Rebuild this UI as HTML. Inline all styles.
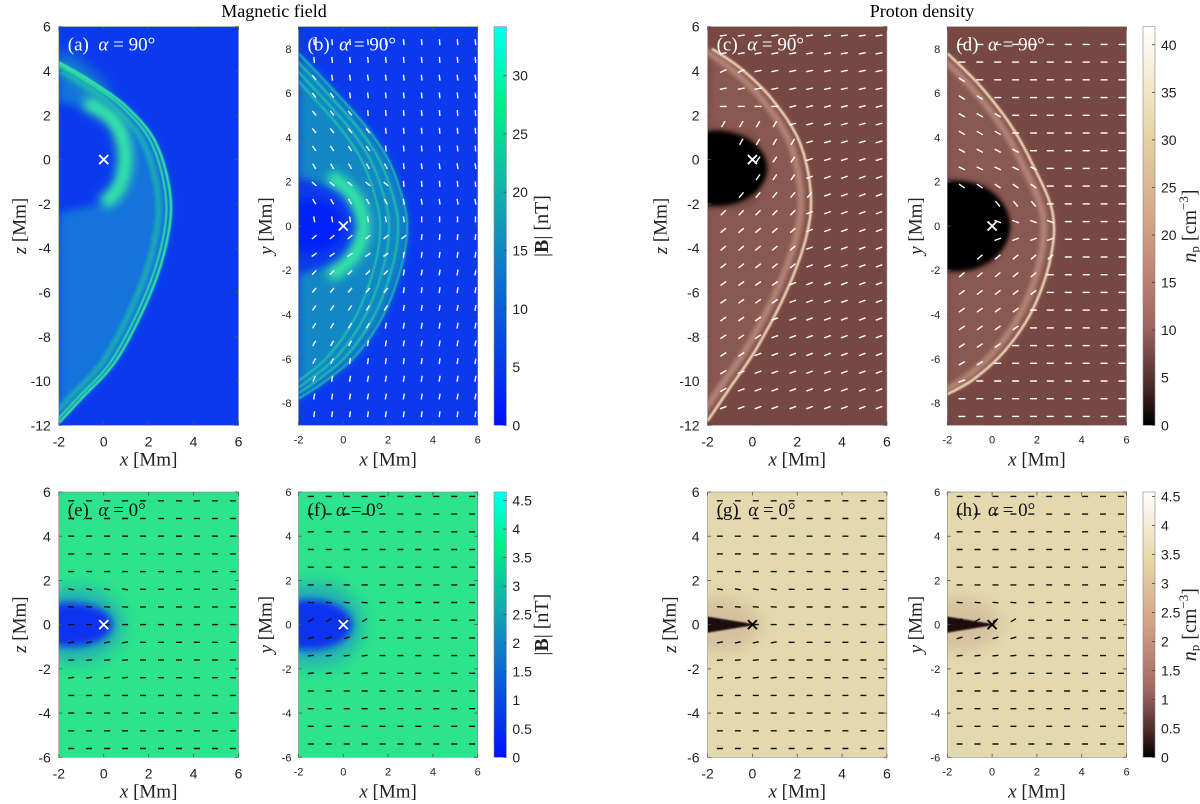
<!DOCTYPE html>
<html><head><meta charset="utf-8">
<style>
html,body{margin:0;padding:0;background:#fff;}
svg{display:block;}
.tk{font-family:"Liberation Sans",sans-serif;fill:#222;}
.sf{font-family:"Liberation Serif",serif;}
</style></head>
<body>
<svg id="fig" width="1200" height="804" viewBox="0 0 1200 804" xmlns="http://www.w3.org/2000/svg">
<defs>
<filter id="b1" x="-50%" y="-50%" width="200%" height="200%"><feGaussianBlur stdDeviation="0.8"/></filter>
<filter id="b2" x="-50%" y="-50%" width="200%" height="200%"><feGaussianBlur stdDeviation="2"/></filter>
<filter id="b4" x="-50%" y="-50%" width="200%" height="200%"><feGaussianBlur stdDeviation="4"/></filter>
<filter id="b5" x="-50%" y="-50%" width="200%" height="200%"><feGaussianBlur stdDeviation="5"/></filter>
<filter id="b8" x="-50%" y="-50%" width="200%" height="200%"><feGaussianBlur stdDeviation="8"/></filter>
<linearGradient id="cbB" x1="0" y1="1" x2="0" y2="0">
<stop offset="0" stop-color="#0010ff"/><stop offset="0.3" stop-color="#0a60d8"/><stop offset="0.55" stop-color="#10a8b0"/><stop offset="0.8" stop-color="#00f088"/><stop offset="1" stop-color="#00fff0"/></linearGradient>
<linearGradient id="cbN" x1="0" y1="1" x2="0" y2="0">
<stop offset="0" stop-color="#000000"/><stop offset="0.1" stop-color="#4a2a28"/><stop offset="0.25" stop-color="#a06662"/><stop offset="0.5" stop-color="#d2a284"/><stop offset="0.75" stop-color="#e8d8a8"/><stop offset="1" stop-color="#ffffff"/></linearGradient>
</defs>
<text class="sf" x="274" y="17" font-size="18" text-anchor="middle">Magnetic field</text>
<text class="sf" x="922" y="17" font-size="18" text-anchor="middle">Proton density</text>
</svg>
<script>
// ---------- data ----------
const xTicks=[-2,0,2,4,6];
const yTicksA=[-12,-10,-8,-6,-4,-2,0,2,4,6];
const yTicksB=[-8,-6,-4,-2,0,2,4,6,8];
const yTicksE=[-6,-4,-2,0,2,4,6];
const cbTicksB=[0,5,10,15,20,25,30];
const cbTicksN=[0,5,10,15,20,25,30,35,40];
const cbTicksLow=[0,0.5,1,1.5,2,2.5,3,3.5,4,4.5];
// shock fronts (x,y data)
const shockA=[[-2,4.4],[-0.5,3.5],[1,2.4],[2.3,0.8],[2.95,-1.5],[2.85,-3.5],[2.1,-6],[0.6,-9],[-1,-10.8],[-2,-11.9]];
const shockB=[[-2,7.8],[-0.5,6.2],[1,4.5],[2,3],[2.6,1.4],[2.85,0],[2.6,-1.8],[1.8,-4],[0.6,-5.8],[-0.8,-7],[-2,-7.8]];
const shockC=[[-1.8,5],[-0.5,4.1],[0.9,2.7],[2.1,0.8],[2.6,-1.5],[2.4,-3.5],[1.5,-6],[0.2,-8.5],[-1,-10.3],[-2,-11.8]];
const shockD=[[-2,7.8],[-0.6,6.4],[0.8,4.6],[1.8,2.8],[2.7,0.6],[2.6,-1.5],[1.8,-3.8],[0.6,-5.6],[-0.8,-6.9],[-2,-7.6]];
// quiver grids
const colsB=[-1.3,-0.5,0.3,1.1,1.9,2.7,3.5,4.3,5.1,5.9];
const rowsB=[8.3,7.5,6.7,5.9,5.1,4.3,3.5,2.7,1.9,1.1,0.3,-0.5,-1.3,-2.1,-2.9,-3.7,-4.5,-5.3,-6.1,-6.9,-7.7,-8.5];
const upAngB=[95,95,98,96,95,95,95,98,95,100,90,85,82,80,82,80,80,80,82,80,80,82];
const shAngB=[125,125,128,128,130,128,125,120,140,120,100,40,35,45,50,55,58,60,62,65,70,75];
const colsC=[-1.3,-0.5,0.25,1.0,1.8,2.55,3.35,4.1,4.9,5.65];
const rowsC=[5.6,4.8,4.0,3.2,2.4,1.6,0.8,0,-0.8,-1.6,-2.4,-3.2,-4.0,-4.8,-5.6,-6.4,-7.2,-8.0,-8.8,-9.6,-10.4,-11.2];
const upAngC=[8,10,12,12,14,15,16,18,20,20,20,20,20,20,20,20,20,20,20,20,20,20];
const shAngC=[15,18,25,10,0,60,60,55,55,50,45,40,40,38,36,35,35,34,33,32,30,30];
const colsD=[-1.35,-0.55,0.25,1.05,1.85,2.6,3.4,4.2,5.0,5.8];
const rowsD=[8.2,7.4,6.6,5.8,5.0,4.2,3.4,2.6,1.8,1.0,0.2,-0.6,-1.4,-2.2,-3.0,-3.8,-4.6,-5.4,-6.2,-7.0,-7.8,-8.6];
const upAngD=[0,0,0,0,0,0,0,0,0,0,0,0,0,0,0,0,0,0,0,0,0,0];
const shAngD=[-30,-30,-32,-32,-30,-30,-28,-25,-35,-50,-20,20,40,40,38,36,35,34,30,20,0,0];
const colsE=[-1.45,-0.65,0.15,0.95,1.75,2.55,3.35,4.15,4.95,5.75];
const rowsE=[5.6,4.8,4.0,3.2,2.4,1.6,0.8,0,-0.8,-1.6,-2.4,-3.2,-4.0,-4.8,-5.6];
const angE=[0,0,0,0,0,-10,-5,0,10,5,8,0,0,0,0];
const rowsF=[5.8,5.0,4.2,3.4,2.6,1.8,1.0,0.2,-0.6,-1.4,-2.2,-3.0,-3.8,-4.6,-5.4];
const angF=[0,0,0,0,0,0,-5,30,15,5,5,0,0,0,0];

// ---------- helpers ----------
const NS='http://www.w3.org/2000/svg';
const svg=document.getElementById('fig');
function mk(tag,attrs,parent){const e=document.createElementNS(NS,tag);for(const k in attrs)e.setAttribute(k,attrs[k]);(parent||svg).appendChild(e);return e;}
function smooth(pts){let d='M'+pts[0][0].toFixed(1)+','+pts[0][1].toFixed(1);
 for(let i=0;i<pts.length-1;i++){const p0=pts[i-1]||pts[i],p1=pts[i],p2=pts[i+1],p3=pts[i+2]||p2;
  d+='C'+(p1[0]+(p2[0]-p0[0])/6).toFixed(1)+','+(p1[1]+(p2[1]-p0[1])/6).toFixed(1)+' '+(p2[0]-(p3[0]-p1[0])/6).toFixed(1)+','+(p2[1]-(p3[1]-p1[1])/6).toFixed(1)+' '+p2[0].toFixed(1)+','+p2[1].toFixed(1);}
 return d;}
function shockXAt(sh,y){for(let i=0;i<sh.length-1;i++){const a=sh[i],b=sh[i+1];if((y<=a[1]&&y>=b[1])){const t=(a[1]-y)/(a[1]-b[1]);return a[0]+t*(b[0]-a[0]);}}return -99;}

const panels=[
 {id:'a',L:58.8,R:238.5,T:26.7,B:425.3,y0:-12,y1:6,yt:yTicksA,fs:14,yl:'z',ylx:20,lab:'(a)',ang:'90',col:'#fff'},
 {id:'b',L:298.5,R:477.7,T:26.7,B:425.3,y0:-9,y1:9,yt:yTicksB,fs:11,yl:'y',ylx:266,lab:'(b)',ang:'90',col:'#fff'},
 {id:'c',L:707.6,R:886.9,T:26.7,B:425.3,y0:-12,y1:6,yt:yTicksA,fs:14,yl:'z',ylx:661,lab:'(c)',ang:'90',col:'#fff'},
 {id:'d',L:947.3,R:1126.5,T:26.7,B:425.3,y0:-9,y1:9,yt:yTicksB,fs:11,yl:'y',ylx:916,lab:'(d)',ang:'90',col:'#fff'},
 {id:'e',L:58.8,R:238.5,T:492,B:757.3,y0:-6,y1:6,yt:yTicksE,fs:14,yl:'z',ylx:20,lab:'(e)',ang:'0',col:'#111'},
 {id:'f',L:298.5,R:477.7,T:492,B:757.3,y0:-6,y1:6,yt:yTicksE,fs:11,yl:'y',ylx:266,lab:'(f)',ang:'0',col:'#111'},
 {id:'g',L:707.6,R:886.9,T:492,B:757.3,y0:-6,y1:6,yt:yTicksE,fs:14,yl:'z',ylx:670,lab:'(g)',ang:'0',col:'#111'},
 {id:'h',L:947.3,R:1126.5,T:492,B:757.3,y0:-6,y1:6,yt:yTicksE,fs:11,yl:'y',ylx:916,lab:'(h)',ang:'0',col:'#111'}
];

function quiver(g,P,sx,sy,cols,rows,angFn,len,color,skip){
 rows.forEach((yv,ri)=>{cols.forEach((xv)=>{
  if(skip&&skip(xv,yv))return;
  const a=angFn(xv,yv,ri)*Math.PI/180;const cx=sx(xv),cy=sy(yv);
  const dx=Math.cos(a)*len/2,dy=-Math.sin(a)*len/2;
  const l=mk('line',{x1:(cx-dx).toFixed(1),y1:(cy-dy).toFixed(1),x2:(cx+dx).toFixed(1),y2:(cy+dy).toFixed(1),stroke:color,'stroke-width':1.4},g);
  
  
 });});
}
function pts(arr,sx,sy,dx){return arr.map(p=>[sx(p[0]+(dx||0)),sy(p[1])]);}

panels.forEach(P=>{
 const sx=x=>P.L+(x+2)/8*(P.R-P.L);
 const sy=v=>P.B-(v-P.y0)/(P.y1-P.y0)*(P.B-P.T);
 const cp=mk('clipPath',{id:'clip'+P.id},svg.querySelector('defs'));
 mk('rect',{x:P.L,y:P.T,width:P.R-P.L,height:P.B-P.T},cp);
 const g=mk('g',{'clip-path':'url(#clip'+P.id+')'});
 
 
 const bgc={a:'#0b3aee',b:'#0b3aee',c:'#774843',d:'#774843',e:'#2ce48c',f:'#2ce48c',g:'#e4d9ae',h:'#e4d9ae'}[P.id];
 const bg=mk('rect',{x:P.L,y:P.T,width:P.R-P.L,height:P.B-P.T,fill:bgc},g);
 
 
 if(P.id==='a'){
  const sh=pts(shockA,sx,sy);
  const inner=[[-2,2.6],[0,2.1],[0.85,0.6],[0.7,-1],[-0.2,-2],[-2,-2.4]].map(p=>[sx(p[0]),sy(p[1])]).reverse();
  mk('path',{d:smooth(sh)+'L'+inner.map(p=>p.join(',')).join('L')+'Z',fill:'#1a9ad0',opacity:0.6,filter:'url(#b4)'},g);
  mk('path',{d:smooth(pts([[-2,4.6],[-1,3.8],[0,2.8]],sx,sy)),stroke:'#20b8b0','stroke-width':16,fill:'none',opacity:0.7,filter:'url(#b8)'},g);
  mk('path',{d:smooth(pts([[-0.8,2.6],[0.5,1.7],[0.95,0.2],[0.7,-1.2],[0,-2]],sx,sy)),stroke:'#38f0a0','stroke-width':14,fill:'none',filter:'url(#b5)'},g);
  mk('path',{d:smooth(pts(shockA,sx,sy,-0.55)),stroke:'#20d0a0','stroke-width':5,fill:'none',opacity:0.7,filter:'url(#b2)'},g);
  mk('path',{d:smooth(pts(shockA,sx,sy,-0.2)),stroke:'#30e898','stroke-width':2,fill:'none',filter:'url(#b1)'},g);
  mk('path',{d:smooth(sh),stroke:'#34f09a','stroke-width':2.4,fill:'none',filter:'url(#b1)'},g);
 }
 if(P.id==='b'){
  const sh=pts(shockB,sx,sy);
  const inner=[[-2,2.2],[0,1.6],[0.85,0],[0,-1.6],[-2,-2.2]].map(p=>[sx(p[0]),sy(p[1])]).reverse();
  mk('path',{d:smooth(sh)+'L'+inner.map(p=>p.join(',')).join('L')+'Z',fill:'#14a8b4',opacity:0.7,filter:'url(#b4)'},g);
  mk('path',{d:smooth(pts([[-0.6,2.3],[0.5,1.3],[0.9,0],[0.5,-1.3],[-0.6,-2.3]],sx,sy)),stroke:'#38f0a0','stroke-width':13,fill:'none',filter:'url(#b5)'},g);
  [-1.2,-0.8,-0.4,0].forEach(o=>{mk('path',{d:smooth(pts(shockB,sx,sy,o)),stroke:'#28dca0','stroke-width':2,fill:'none',opacity:0.7,filter:'url(#b1)'},g);});
  mk('ellipse',{cx:sx(-1.5),cy:sy(0),rx:(sx(1)-sx(0))*1.5,ry:(sy(0)-sy(1))*1.2,fill:'#0520f8',filter:'url(#b4)'},g);
 }
 if(P.id==='c'||P.id==='d'){
  const S=P.id==='c'?shockC:shockD;
  const sh=pts(S,sx,sy);
  const inner=(P.id==='c'?[[-2,1.5],[0,1.2],[0.8,-0.4],[0,-2.1],[-2,-2.3]]:[[-2,2.2],[0,1.8],[0.9,0],[0,-1.8],[-2,-2.2]]).map(p=>[sx(p[0]),sy(p[1])]).reverse();
  mk('path',{d:smooth(sh)+'L'+inner.map(p=>p.join(',')).join('L')+'Z',fill:'#94625a',opacity:0.65,filter:'url(#b4)'},g);
  mk('path',{d:smooth(pts(S,sx,sy,-0.45)),stroke:'#c89888','stroke-width':6,fill:'none',opacity:0.75,filter:'url(#b2)'},g);
  mk('path',{d:smooth(sh),stroke:'#f0d4b4','stroke-width':2.6,fill:'none',filter:'url(#b1)'},g);
  const cav=P.id==='c'?{x:-1.6,y:-0.4,rx:2.25,ry:1.7}:{x:-1.6,y:0,rx:2.4,ry:2.05};
  mk('ellipse',{cx:sx(cav.x),cy:sy(cav.y),rx:(sx(1)-sx(0))*cav.rx,ry:(sy(0)-sy(1))*cav.ry,fill:'#050202',filter:'url(#b2)'},g);
 }
 if(P.id==='e'||P.id==='f'){
  const ry=P.id==='e'?1.0:1.15;
  mk('ellipse',{cx:sx(-1.4),cy:sy(0),rx:(sx(1)-sx(0))*2.3,ry:(sy(0)-sy(1))*ry*1.7,fill:'#1a8ad0',opacity:0.55,filter:'url(#b8)'},g);
  mk('ellipse',{cx:sx(-1.5),cy:sy(0),rx:(sx(1)-sx(0))*1.9,ry:(sy(0)-sy(1))*ry,fill:'#0a30f0',filter:'url(#b4)'},g);
 }
 if(P.id==='g'||P.id==='h'){
  mk('ellipse',{cx:sx(-1.6),cy:sy(0),rx:(sx(1)-sx(0))*2,ry:(sy(0)-sy(1))*1.2,fill:'#c8a890',opacity:0.5,filter:'url(#b8)'},g);
  mk('path',{d:'M'+sx(-2.1)+','+sy(0.38)+'L'+sx(0.2)+','+sy(0)+'L'+sx(-2.1)+','+sy(-0.38)+'Z',fill:'#1a0a0a',filter:'url(#b1)'},g);
 }
 // quivers
 if(P.id==='b')quiver(g,P,sx,sy,colsB,rowsB,(x,y,ri)=>x>shockXAt(shockB,y)?upAngB[ri]:shAngB[ri],6,'#fff');
 if(P.id==='c')quiver(g,P,sx,sy,colsC,rowsC,(x,y,ri)=>x>shockXAt(shockC,y)?upAngC[ri]:shAngC[ri],7,'#fff',(x,y)=>((x+1.6)/2.25)**2+((y+0.4)/1.7)**2<0.6);
 if(P.id==='d')quiver(g,P,sx,sy,colsD,rowsD,(x,y,ri)=>x>shockXAt(shockD,y)?upAngD[ri]:shAngD[ri],7,'#fff',(x,y)=>((x+1.6)/2.4)**2+(y/2.05)**2<0.6);
 if(P.id==='e'||P.id==='g')quiver(g,P,sx,sy,colsE,rowsE,(x,y,ri)=>x<1?angE[ri]:0,6,'#111');
 if(P.id==='f'||P.id==='h')quiver(g,P,sx,sy,colsE,rowsF,(x,y,ri)=>x<1?angF[ri]:0,6,'#111');
 // origin marker
 const mc=(P.id==='g'||P.id==='h')?'#000':'#fff';
 const ox=sx(0),oy=sy(0);
 const mrk=mk('path',{d:`M${ox-4.5},${oy-4.5}L${ox+4.5},${oy+4.5}M${ox-4.5},${oy+4.5}L${ox+4.5},${oy-4.5}`,stroke:mc,'stroke-width':1.8},g);
 
 
 // panel label
 const pl=mk('text',{x:P.L+9,y:P.T+24,'font-size':19,fill:P.col,class:'sf'});
 
 
 pl.innerHTML=P.lab+'&#160;&#160;<tspan font-style="italic">α</tspan> = '+P.ang+'°';
 // frame & ticks
 const ax=mk('g',{});
 
 
 mk('rect',{x:P.L,y:P.T,width:P.R-P.L,height:P.B-P.T,fill:'none',stroke:'#888','stroke-width':0.6},ax);
 xTicks.forEach(t=>{const X=sx(t);
  mk('line',{x1:X,y1:P.B,x2:X,y2:P.B-3.5,stroke:'#555','stroke-width':0.8},ax);
  mk('line',{x1:X,y1:P.T,x2:X,y2:P.T+3.5,stroke:'#555','stroke-width':0.8},ax);
  const tl=mk('text',{x:X,y:P.B+(P.fs>12?21:18),'font-size':P.fs,'text-anchor':'middle',class:'tk'},ax);
  
  
  tl.textContent=t;});
 P.yt.forEach(t=>{const Y=sy(t);
  mk('line',{x1:P.L,y1:Y,x2:P.L+3.5,y2:Y,stroke:'#555','stroke-width':0.8},ax);
  mk('line',{x1:P.R,y1:Y,x2:P.R-3.5,y2:Y,stroke:'#555','stroke-width':0.8},ax);
  const tl=mk('text',{x:P.L-(P.fs>12?8:7),y:Y+P.fs*0.36,'font-size':P.fs,'text-anchor':'end',class:'tk'},ax);
  
  
  tl.textContent=t;});
 const xl=mk('text',{x:(P.L+P.R)/2,y:P.B+40,'font-size':19,'text-anchor':'middle',class:'sf',fill:'#222'});
 
 
 xl.innerHTML='<tspan font-style="italic">x</tspan> [Mm]';
 const cy=(P.T+P.B)/2;
 const yl=mk('text',{x:P.ylx,y:cy,'font-size':19,'text-anchor':'middle','dominant-baseline':'central',class:'sf',fill:'#222',transform:`rotate(-90 ${P.ylx} ${cy})`});
 
 
 yl.innerHTML='<tspan font-style="italic">'+P.yl+'</tspan> [Mm]';
});

// colorbars
const cbs=[
 {L:494,R:506.4,T:26.7,B:425.3,max:34.2,ticks:cbTicksB,grad:'cbB',lab:'B',lx:542},
 {L:1143,R:1155,T:26.7,B:425.3,max:41.9,ticks:cbTicksN,grad:'cbN',lab:'n',lx:1190},
 {L:494,R:506.4,T:492,B:757.3,max:4.65,ticks:cbTicksLow,grad:'cbB',lab:'B',lx:542},
 {L:1143,R:1155,T:492,B:757.3,max:4.58,ticks:cbTicksLow,grad:'cbN',lab:'n',lx:1190}
];
cbs.forEach((C,i)=>{
 const g=mk('g',{});
 
 
 mk('rect',{x:C.L,y:C.T,width:C.R-C.L,height:C.B-C.T,fill:'url(#'+C.grad+')',stroke:'#888','stroke-width':0.6},g);
 C.ticks.forEach(t=>{const Y=C.B-t/C.max*(C.B-C.T);
  mk('line',{x1:C.R,y1:Y,x2:C.R-3,y2:Y,stroke:'#444','stroke-width':0.8},g);
  const tl=mk('text',{x:C.R+6,y:Y+5,'font-size':14,class:'tk'},g);
  
  
  tl.textContent=t;});
 const cy=(C.T+C.B)/2;
 const lt=mk('text',{x:C.lx,y:cy,'font-size':20,'text-anchor':'middle','dominant-baseline':'central',class:'sf',fill:'#222',transform:`rotate(-90 ${C.lx} ${cy})`},g);
 
 
 if(C.lab==='B')lt.innerHTML='|<tspan font-weight="bold">B</tspan>| [nT]';
 else lt.innerHTML='<tspan font-style="italic">n</tspan><tspan font-size="13" dy="4">p</tspan><tspan dy="-4"> [cm</tspan><tspan font-size="13" dy="-7">−3</tspan><tspan dy="7">]</tspan>';
});
</script>
</body></html>
